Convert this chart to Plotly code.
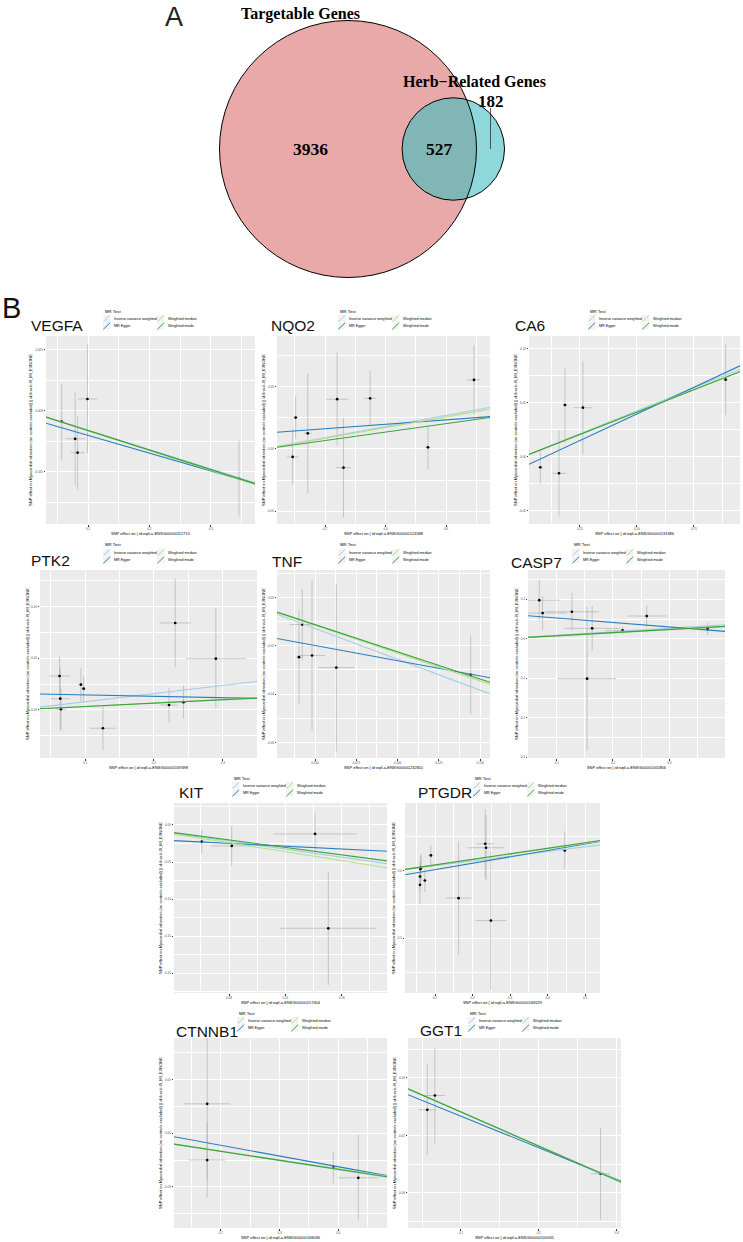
import numpy as np
import plotly.graph_objects as go

W, H = 743, 1242
SANS = "Liberation Sans, Arial, sans-serif"
SERIF = "Liberation Serif, Times New Roman, serif"

# ---------------- Panel A data (Venn) ----------------
venn_names = ["Targetable Genes", "Herb\u2212Related Genes"]
venn_only_a = 3936
venn_both = 527
venn_only_b = 182

# ---------------- Panel B data (MR scatter plots) ----------------
genes = ["VEGFA", "NQO2", "CA6", "PTK2", "TNF", "CASP7", "KIT", "PTGDR", "CTNNB1", "GGT1"]
exposure_ids = ["ENSG00000112715", "ENSG00000124588", "ENSG00000131686", "ENSG00000169398",
                "ENSG00000232810", "ENSG00000165806", "ENSG00000157404", "ENSG00000168229",
                "ENSG00000168036", "ENSG00000100031"]
outcome_label = "SNP effect on Myocardial infarction (no controls excluded) || id:finn-b-I9_MI_EXNONE"
methods = ["Inverse variance weighted", "MR Egger", "Weighted median", "Weighted mode"]
method_colors = ["#A6CEE3", "#2A7DC0", "#B2DF8A", "#3AA33A"]

vegfa_bx = [0.057, 0.079, 0.083, 0.099, 0.346]
vegfa_by = [-0.0044, -0.0114, -0.0171, 0.0049, -0.0277]
vegfa_sx = [0.004, 0.016, 0.011, 0.016, 0.004]
vegfa_sy = [0.0156, 0.019, 0.015, 0.0223, 0.0155]

nqo2_bx = [0.093, 0.103, 0.143, 0.240, 0.261, 0.349, 0.540, 0.692]
nqo2_by = [-0.0064, 0.0252, 0.0126, 0.0400, -0.0150, 0.0407, 0.0013, 0.0555]
nqo2_sx = [0.019, 0.008, 0.013, 0.036, 0.024, 0.020, 0.008, 0.022]
nqo2_sy = [0.0222, 0.017, 0.048, 0.0375, 0.040, 0.022, 0.0175, 0.0277]

ca6_bx = [0.076, 0.158, 0.184, 0.263, 0.889]
ca6_by = [-0.0098, -0.0153, 0.0478, 0.0453, 0.0712]
ca6_sx = [0.010, 0.032, 0.010, 0.042, 0.010]
ca6_sy = [0.0154, 0.040, 0.0347, 0.043, 0.0327]

ptk2_bx = [0.063, 0.064, 0.065, 0.094, 0.098, 0.126, 0.222, 0.243, 0.231, 0.290]
ptk2_by = [0.0329, 0.0109, 0.0007, 0.0245, 0.0206, -0.0177, 0.0048, 0.0075, 0.0842, 0.0497]
ptk2_sx = [0.015, 0.0145, 0.008, 0.004, 0.004, 0.019, 0.0125, 0.004, 0.0228, 0.0436]
ptk2_sy = [0.0186, 0.0306, 0.020, 0.016, 0.012, 0.021, 0.017, 0.016, 0.0428, 0.0484]

tnf_bx = [0.0423, 0.0403, 0.0482, 0.0629, 0.1442]
tnf_by = [-0.0112, -0.0247, -0.0240, -0.0290, -0.0320]
tnf_sx = [0.0076, 0.002, 0.0079, 0.0107, 0.002]
tnf_sy = [0.0147, 0.0197, 0.031, 0.0346, 0.0163]

casp7_bx = [0.069, 0.075, 0.127, 0.163, 0.154, 0.217, 0.260, 0.368]
casp7_by = [0.0982, 0.0655, 0.0688, 0.0267, -0.1008, 0.0217, 0.0579, 0.0252]
casp7_sx = [0.0355, 0.043, 0.048, 0.050, 0.052, 0.030, 0.0355, 0.005]
casp7_sy = [0.0525, 0.044, 0.048, 0.0567, 0.182, 0.010, 0.027, 0.015]

kit_bx = [0.0606, 0.0819, 0.1411, 0.1505]
kit_by = [-0.0225, -0.0283, -0.0121, -0.1392]
kit_sx = [0.003, 0.015, 0.0296, 0.0343]
kit_sy = [0.0157, 0.027, 0.029, 0.0763]

ptgdr_bx = [0.060, 0.060, 0.061, 0.063, 0.073, 0.089, 0.163, 0.234, 0.236, 0.249, 0.446]
ptgdr_by = [-0.0211, -0.0089, 0.0020, 0.0045, -0.0148, 0.0222, -0.0408, 0.0394, 0.0335, -0.0739, 0.0296]
ptgdr_sx = [0.003, 0.003, 0.003, 0.003, 0.003, 0.008, 0.0333, 0.023, 0.050, 0.041, 0.004]
ptgdr_sy = [0.028, 0.021, 0.020, 0.020, 0.017, 0.015, 0.0837, 0.051, 0.048, 0.102, 0.028]

ctnnb1_bx = [0.177, 0.177, 0.3915, 0.434]
ctnnb1_by = [0.0275, -0.0250, -0.0319, -0.0416]
ctnnb1_sx = [0.0397, 0.031, 0.003, 0.034]
ctnnb1_sy = [0.0703, 0.035, 0.0148, 0.040]

ggt1_bx = [0.0568, 0.0665, 0.2792]
ggt1_by = [-0.0111, -0.0061, -0.0333]
ggt1_sx = [0.0116, 0.0127, 0.0127]
ggt1_sy = [0.0157, 0.0168, 0.016]

# MR estimates (slopes; MR Egger also has an intercept)
ivw_b = [-0.079, 0.045, 0.085, 0.079, -0.256, 0.090, -0.271, 0.070, -0.085, -0.119]
egger_b = [-0.0726, 0.0179, 0.0984, -0.0138, -0.1258, -0.113, -0.095, 0.0946, -0.1005, -0.110]
egger_a = [-0.00275, 0.0127, -0.0096, 0.016, -0.0136, 0.0642, -0.0172, -0.0083, 0.0089, -0.0023]
median_b = [-0.081, 0.043, 0.083, 0.034, -0.230, 0.078, -0.300, 0.080, -0.083, -0.118]
mode_b = [-0.080, 0.034, 0.0826, 0.033, -0.225, 0.0797, -0.252, 0.082, -0.0843, -0.1185]

# tick values / labels
x_ticks = [[0.1, 0.2, 0.3], [0.2, 0.4, 0.6], [0.25, 0.5, 0.75], [0.1, 0.2, 0.3],
           [0.05, 0.075, 0.1, 0.125, 0.15], [0.1, 0.2, 0.3], [0.08, 0.12, 0.16],
           [0.1, 0.2, 0.3, 0.4, 0.5], [0.2, 0.3, 0.4], [0.1, 0.2, 0.3]]
x_tick_labels = [["0.1", "0.2", "0.3"], ["0.2", "0.4", "0.6"], ["0.25", "0.50", "0.75"],
                 ["0.1", "0.2", "0.3"], ["0.050", "0.075", "0.100", "0.125", "0.150"],
                 ["0.1", "0.2", "0.3"], ["0.08", "0.12", "0.16"],
                 ["0.1", "0.2", "0.3", "0.4", "0.5"], ["0.2", "0.3", "0.4"], ["0.1", "0.2", "0.3"]]
y_ticks = [[-0.025, 0, 0.025], [-0.05, 0, 0.05], [-0.05, 0, 0.05, 0.10], [0, 0.05, 0.10],
           [-0.06, -0.04, -0.02, 0], [-0.3, -0.2, -0.1, 0, 0.1], [-0.2, -0.15, -0.1, -0.05, 0],
           [-0.1, 0], [-0.05, 0, 0.05], [-0.04, -0.02, 0]]
y_tick_labels = [["-0.025", "0.000", "0.025"], ["-0.05", "0.00", "0.05"],
                 ["-0.05", "0.00", "0.05", "0.10"], ["0.00", "0.05", "0.10"],
                 ["-0.06", "-0.04", "-0.02", "0.00"], ["-0.3", "-0.2", "-0.1", "0.0", "0.1"],
                 ["-0.20", "-0.15", "-0.10", "-0.05", "0.00"], ["-0.1", "0.0"],
                 ["-0.05", "0.00", "0.05"], ["-0.04", "-0.02", "0.00"]]

# ---------------- layout (pixel boxes of plot panels) ----------------
panel_px = [(46, 255, 336, 524), (277, 490, 336, 524), (529, 740, 336, 524),
            (40, 257, 570, 758), (277, 490, 570, 758), (528, 725, 570, 758),
            (174, 387, 803, 993), (405, 600, 803, 993),
            (174, 387, 1038, 1228), (408, 621, 1038, 1228)]
x_range = [[0.0315, 0.372], [0.0413, 0.745], [0.0263, 0.952], [0.0346, 0.3498], [0.027, 0.1559],
           [0.049, 0.399], [0.0409, 0.1922], [0.02, 0.54], [0.1206, 0.4828], [0.032, 0.3055]]
y_range = [[-0.0463, 0.0307], [-0.0603, 0.0908], [-0.0622, 0.1116], [-0.0465, 0.1355],
           [-0.0664, 0.01135], [-0.302, 0.1746], [-0.2264, 0.0296], [-0.1807, 0.0995],
           [-0.0885, 0.089], [-0.0522, 0.0139]]
legend_left = [103, 338, 588, 103, 338, 572, 232, 473, 237, 468]
title_pos = [(29, 325), (269, 325), (513, 325), (29, 560), (270, 561), (509, 562),
             (177, 793), (416, 793), (174, 1031), (418, 1030)]

snp = {
    "VEGFA": (vegfa_bx, vegfa_by, vegfa_sx, vegfa_sy),
    "NQO2": (nqo2_bx, nqo2_by, nqo2_sx, nqo2_sy),
    "CA6": (ca6_bx, ca6_by, ca6_sx, ca6_sy),
    "PTK2": (ptk2_bx, ptk2_by, ptk2_sx, ptk2_sy),
    "TNF": (tnf_bx, tnf_by, tnf_sx, tnf_sy),
    "CASP7": (casp7_bx, casp7_by, casp7_sx, casp7_sy),
    "KIT": (kit_bx, kit_by, kit_sx, kit_sy),
    "PTGDR": (ptgdr_bx, ptgdr_by, ptgdr_sx, ptgdr_sy),
    "CTNNB1": (ctnnb1_bx, ctnnb1_by, ctnnb1_sx, ctnnb1_sy),
    "GGT1": (ggt1_bx, ggt1_by, ggt1_sx, ggt1_sy),
}


def px(x):
    return x / W


def py(y):
    return 1 - y / H


fig = go.Figure()
shapes = []
annotations = []
axes = {}
ERR = "#A3A3A3"

axis_style = dict(showgrid=True, gridcolor="white", gridwidth=0.8, zeroline=False, showline=False,
                  ticks="outside", ticklen=1.5, tickwidth=0.5, tickcolor="#333333",
                  tickfont=dict(size=3, color="#4D4D4D", family=SANS))

for i, g in enumerate(genes):
    k = "" if i == 0 else str(i + 1)
    xr, yr = "x" + k, "y" + k
    L, R, T, B = panel_px[i]
    bx, by, sx, sy = snp[g]
    fig.add_trace(go.Scatter(
        x=bx, y=by, mode="markers", xaxis=xr, yaxis=yr,
        marker=dict(size=2.7, color="black"),
        error_x=dict(type="data", array=sx, color=ERR, thickness=0.55, width=0),
        error_y=dict(type="data", array=sy, color=ERR, thickness=0.55, width=0),
        showlegend=False, hoverinfo="skip"))
    xs = np.array(x_range[i])
    fits = [(0.0, ivw_b[i]), (egger_a[i], egger_b[i]), (0.0, median_b[i]), (0.0, mode_b[i])]
    for m, (a, b) in enumerate(fits):
        fig.add_trace(go.Scatter(
            x=xs, y=a + b * xs, mode="lines", xaxis=xr, yaxis=yr,
            line=dict(color=method_colors[m], width=1.1),
            showlegend=False, hoverinfo="skip"))

    xt, yt = x_ticks[i], y_ticks[i]
    axes["xaxis" + k] = dict(
        domain=[px(L), px(R)], anchor=yr, range=x_range[i],
        tickmode="array", tickvals=xt, ticktext=x_tick_labels[i],
        minor=dict(tickmode="linear", tick0=xt[0], dtick=(xt[1] - xt[0]) / 2,
                   showgrid=True, gridcolor="white", gridwidth=0.4, ticks=""),
        title=dict(text="SNP effect on | id:eqtl-a-" + exposure_ids[i],
                   font=dict(size=4, color="black", family=SANS), standoff=1.5),
        **axis_style)
    axes["yaxis" + k] = dict(
        domain=[py(B), py(T)], anchor=xr, range=y_range[i],
        tickmode="array", tickvals=yt, ticktext=y_tick_labels[i],
        minor=dict(tickmode="linear", tick0=yt[0], dtick=(yt[1] - yt[0]) / 2,
                   showgrid=True, gridcolor="white", gridwidth=0.4, ticks=""),
        title=dict(text=outcome_label, font=dict(size=4, color="black", family=SANS), standoff=1),
        **axis_style)

    # gene title
    tx, ty = title_pos[i]
    annotations.append(dict(x=px(tx), y=py(ty), xref="paper", yref="paper", text=g,
                            showarrow=False, xanchor="left", yanchor="middle",
                            font=dict(size=15.5, color="#111111", family=SANS)))
    # legend (MR Test)
    lx = legend_left[i]
    annotations.append(dict(x=px(lx), y=py(T - 25), xref="paper", yref="paper", text="MR Test",
                            showarrow=False, xanchor="left", yanchor="middle",
                            font=dict(size=4.3, color="black", family=SANS)))
    for m, name in enumerate(methods):
        col, row = m // 2, m % 2
        kx0 = lx + 54 * col
        kyc = T - 17.5 + 7.5 * row
        shapes.append(dict(type="rect", xref="paper", yref="paper",
                           x0=px(kx0), x1=px(kx0 + 7.5), y0=py(kyc + 3.7), y1=py(kyc - 3.7),
                           fillcolor="#F2F2F2", line=dict(color="white", width=0.5), layer="above"))
        shapes.append(dict(type="line", xref="paper", yref="paper",
                           x0=px(kx0 + 0.3), x1=px(kx0 + 7.2), y0=py(kyc + 3.4), y1=py(kyc - 3.4),
                           line=dict(color=method_colors[m], width=1)))
        annotations.append(dict(x=px(kx0 + 9), y=py(kyc), xref="paper", yref="paper", text=name,
                                showarrow=False, xanchor="left", yanchor="middle",
                                font=dict(size=3.7, color="black", family=SANS)))

# ---------------- Panel A: Venn diagram ----------------
n_a = venn_only_a + venn_both
n_b = venn_only_b + venn_both
cx1, cy, r1 = 348.0, 149.0, 128.5
r2 = r1 * np.sqrt(n_b / n_a)
target = venn_both / n_a * np.pi * r1 ** 2


def lens_area(d):
    a1 = r1 ** 2 * np.arccos((d * d + r1 * r1 - r2 * r2) / (2 * d * r1))
    a2 = r2 ** 2 * np.arccos((d * d + r2 * r2 - r1 * r1) / (2 * d * r2))
    a3 = 0.5 * np.sqrt((-d + r1 + r2) * (d + r1 - r2) * (d - r1 + r2) * (d + r1 + r2))
    return a1 + a2 - a3


lo, hi = r1 - r2 + 1e-6, r1 + r2 - 1e-6
for _ in range(80):
    mid = (lo + hi) / 2
    if lens_area(mid) > target:
        lo = mid
    else:
        hi = mid
d = (lo + hi) / 2
cx2 = cx1 + d

xi = (d * d + r1 * r1 - r2 * r2) / (2 * d)
yi = np.sqrt(r1 * r1 - xi * xi)
th1 = np.arctan2(yi, xi)
ph = np.arctan2(yi, xi - d)
t_big = np.linspace(-th1, th1, 60)
t_small = np.linspace(ph, 2 * np.pi - ph, 120)
lx_pts = np.concatenate([cx1 + r1 * np.cos(t_big), cx2 + r2 * np.cos(t_small)])
ly_pts = np.concatenate([cy + r1 * np.sin(t_big), cy + r2 * np.sin(t_small)])
lens_path = "M " + " L ".join(f"{px(a):.5f},{py(b):.5f}" for a, b in zip(lx_pts, ly_pts)) + " Z"

venn_shapes = [
    dict(type="circle", xref="paper", yref="paper", x0=px(cx1 - r1), x1=px(cx1 + r1),
         y0=py(cy + r1), y1=py(cy - r1), fillcolor="#E8A9A8", line=dict(width=0)),
    dict(type="circle", xref="paper", yref="paper", x0=px(cx2 - r2), x1=px(cx2 + r2),
         y0=py(cy + r2), y1=py(cy - r2), fillcolor="#8ED8DC", line=dict(width=0)),
    dict(type="path", xref="paper", yref="paper", path=lens_path, fillcolor="#80B7B6",
         line=dict(width=0)),
    dict(type="circle", xref="paper", yref="paper", x0=px(cx1 - r1), x1=px(cx1 + r1),
         y0=py(cy + r1), y1=py(cy - r1), line=dict(color="black", width=1)),
    dict(type="circle", xref="paper", yref="paper", x0=px(cx2 - r2), x1=px(cx2 + r2),
         y0=py(cy + r2), y1=py(cy - r2), line=dict(color="black", width=1)),
]
x_only_b = ((cx1 + r1) + (cx2 + r2)) / 2
venn_shapes.append(dict(type="line", xref="paper", yref="paper", x0=px(x_only_b), x1=px(x_only_b),
                        y0=py(108), y1=py(cy), line=dict(color="black", width=0.6)))
shapes = venn_shapes + shapes

annotations += [
    dict(x=px(((cx1 - r1) + (cx2 - r2)) / 2), y=py(cy), text="<b>%d</b>" % venn_only_a,
         font=dict(family=SERIF, size=17.5, color="black")),
    dict(x=px(((cx2 - r2) + (cx1 + r1)) / 2), y=py(cy), text="<b>%d</b>" % venn_both,
         font=dict(family=SERIF, size=17.5, color="black")),
    dict(x=px(x_only_b), y=py(101.5), text="<b>%d</b>" % venn_only_b,
         font=dict(family=SERIF, size=17, color="black")),
]
for a in annotations[-3:]:
    a.update(xref="paper", yref="paper", showarrow=False, xanchor="center", yanchor="middle")
annotations += [
    dict(x=px(300), y=py(14), xref="paper", yref="paper", text="<b>" + venn_names[0] + "</b>",
         showarrow=False, xanchor="center", yanchor="middle", font=dict(family=SERIF, size=16, color="black")),
    dict(x=px(475), y=py(82), xref="paper", yref="paper", text="<b>" + venn_names[1] + "</b>",
         showarrow=False, xanchor="center", yanchor="middle", font=dict(family=SERIF, size=16, color="black")),
    dict(x=px(174), y=py(17), xref="paper", yref="paper", text="A", showarrow=False,
         xanchor="center", yanchor="middle", font=dict(family=SANS, size=27, color="#222222")),
    dict(x=px(11.5), y=py(308), xref="paper", yref="paper", text="B", showarrow=False,
         xanchor="center", yanchor="middle", font=dict(family=SANS, size=29, color="#111111")),
]

fig.update_layout(
    width=W, height=H, margin=dict(l=0, r=0, t=0, b=0),
    paper_bgcolor="white", plot_bgcolor="#EBEBEB",
    showlegend=False, shapes=shapes, annotations=annotations,
    font=dict(family=SANS),
    **axes)

fig.write_html("out.html")
